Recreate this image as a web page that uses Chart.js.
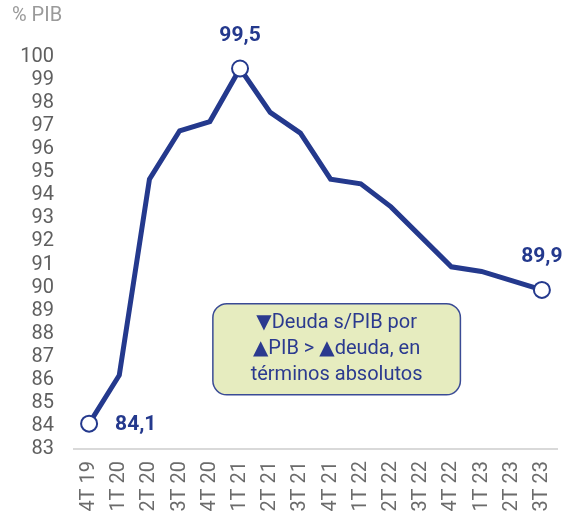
<!DOCTYPE html>
<html>
<head>
<meta charset="utf-8">
<script src="https://cdn.jsdelivr.net/npm/chart.js@4"></script>
<style>
  html, body { margin: 0; padding: 0; background: #ffffff; }
  #wrap { width: 562px; height: 521px; position: relative; }
</style>
</head>
<body>
<div id="wrap"><canvas id="c" width="562" height="521"></canvas></div>
<script>
const categories = ["4T 19","1T 20","2T 20","3T 20","4T 20","1T 21","2T 21","3T 21","4T 21","1T 22","2T 22","3T 22","4T 22","1T 23","2T 23","3T 23"];
const deudaPIB = [84.1, 86.2, 94.7, 96.8, 97.2, 99.5, 97.6, 96.7, 94.7, 94.5, 93.5, 92.2, 90.9, 90.7, 90.3, 89.9];
const highlighted = [0, 5, 15];
const yTicks = [83,84,85,86,87,88,89,90,91,92,93,94,95,96,97,98,99,100];
const unitLabel = "% PIB";
const noteLines = ["\u25BCDeuda s/PIB por", "\u25B2PIB > \u25B2deuda, en", "t\u00e9rminos absolutos"];

const NAVY = '#24398d';
const FONT = 'Roboto, "DejaVu Sans", sans-serif';

const fmt = v => v.toFixed(1).replace('.', ',');

const overlay = {
  id: 'overlay',
  afterDatasetsDraw(chart) {
    const ctx = chart.ctx;
    const xs = chart.scales.x, ys = chart.scales.y;
    ctx.save();
    ctx.font = '20px ' + FONT;
    ctx.fillStyle = '#9a9a9a';
    ctx.textAlign = 'left';
    ctx.textBaseline = 'middle';
    ctx.fillText(unitLabel, 12, 16);

    const bx1 = xs.getPixelForValue(4.1), bx2 = xs.getPixelForValue(12.3);
    const by1 = ys.getPixelForValue(89.3), by2 = ys.getPixelForValue(85.35);
    const r = 14;
    ctx.beginPath();
    ctx.roundRect(bx1, by1, bx2 - bx1, by2 - by1, r);
    ctx.fillStyle = '#e6ecbf';
    ctx.fill();
    ctx.lineWidth = 1.5;
    ctx.strokeStyle = '#3a4b95';
    ctx.stroke();
    ctx.fillStyle = '#2b3a8f';
    ctx.font = '20px ' + FONT;
    ctx.textAlign = 'center';
    const cx = (bx1 + bx2) / 2;
    const cy = (by1 + by2) / 2;
    noteLines.forEach((t, i) => ctx.fillText(t, cx, cy + (i - 1) * 26));

    const meta = chart.getDatasetMeta(0);
    ctx.font = 'bold 21px ' + FONT;
    ctx.fillStyle = NAVY;
    highlighted.forEach(i => {
      const p = meta.data[i];
      const txt = fmt(deudaPIB[i]);
      if (i === 0) {
        ctx.textAlign = 'left';
        ctx.fillText(txt, p.x + 26, p.y + 1);
      } else {
        ctx.textAlign = 'center';
        ctx.fillText(txt, p.x, p.y - 33);
      }
    });
    ctx.restore();
  }
};

new Chart(document.getElementById('c'), {
  type: 'line',
  data: {
    labels: categories,
    datasets: [{
      data: deudaPIB,
      borderColor: NAVY,
      borderWidth: 5,
      tension: 0,
      clip: false,
      pointRadius: deudaPIB.map((v, i) => highlighted.includes(i) ? 8 : 0),
      pointHoverRadius: 0,
      pointBackgroundColor: '#ffffff',
      pointBorderColor: NAVY,
      pointBorderWidth: 2
    }]
  },
  options: {
    responsive: false,
    animation: false,
    events: [],
    layout: { autoPadding: false, padding: { top: 57, right: 5, bottom: 0, left: 0 } },
    plugins: { legend: { display: false }, tooltip: { enabled: false }, title: { display: false } },
    scales: {
      x: {
        type: 'category',
        offset: true,
        grid: { display: false, drawTicks: false },
        border: { display: true, color: '#d9d9d9', width: 2 },
        ticks: {
          color: '#6b6b6b',
          font: { family: FONT, size: 20 },
          minRotation: 90, maxRotation: 90,
          padding: 12,
          autoSkip: false
        },
        afterFit(s) { s.height = 72; s.paddingLeft = 0; s.paddingRight = 0; }
      },
      y: {
        min: 83, max: 100,
        grid: { display: false, drawTicks: false },
        border: { display: false },
        afterBuildTicks(s) { s.ticks = yTicks.map(v => ({ value: v })); },
        ticks: {
          color: '#5f5f5f',
          font: { family: FONT, size: 20 },
          padding: 20,
          autoSkip: false,
          callback: v => String(v)
        },
        afterFit(s) { s.width = 74; s.paddingTop = 0; s.paddingBottom = 0; }
      }
    }
  },
  plugins: [overlay]
});
</script>
</body>
</html>
